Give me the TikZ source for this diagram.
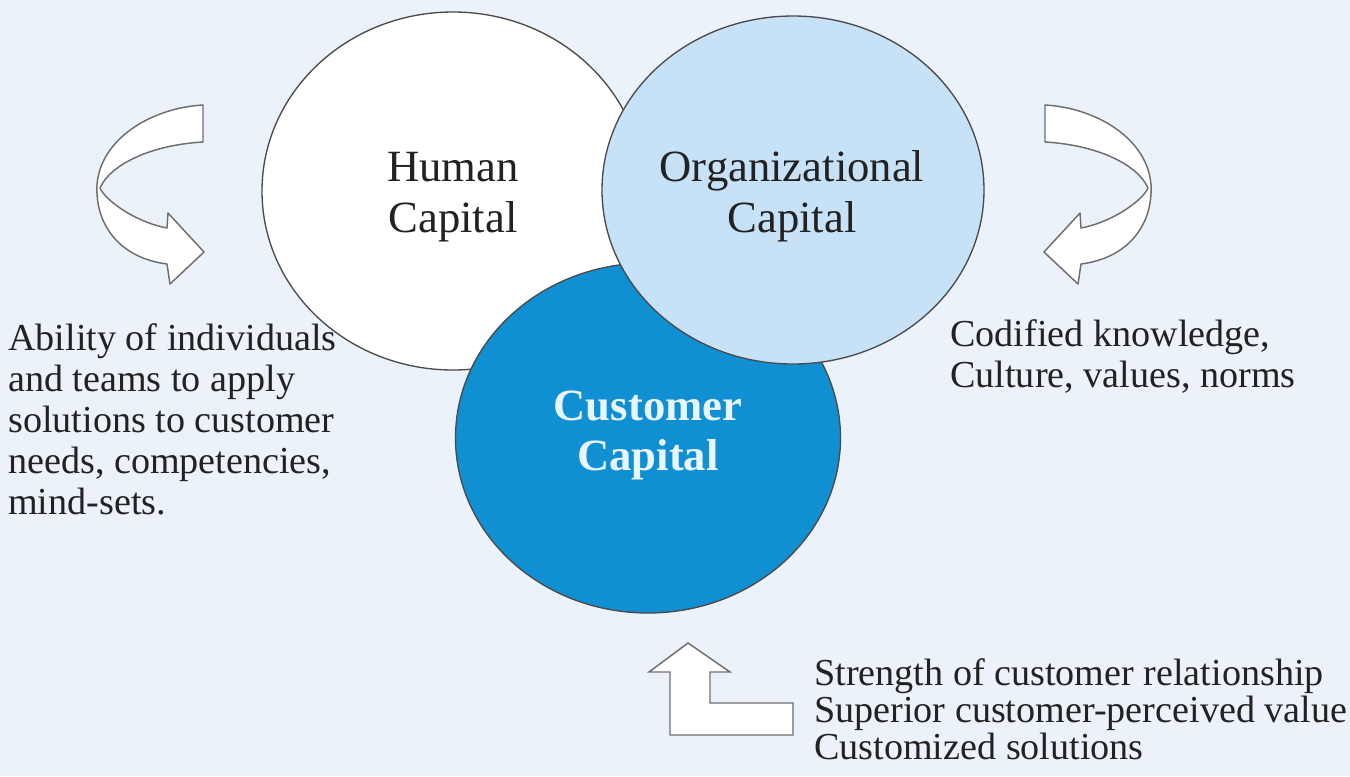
\documentclass[tikz,border=0pt]{standalone}
\usepackage{fontspec}
\setmainfont{Liberation Serif}
\usetikzlibrary{shapes.geometric}
\definecolor{bgc}{HTML}{ECF2F9}
\definecolor{orgc}{HTML}{C7E2F7}
\definecolor{custc}{HTML}{108FD2}
\definecolor{edgec}{HTML}{4A4A4A}
\definecolor{txtc}{HTML}{222222}
\definecolor{custtxt}{HTML}{E8F5FC}
\tikzset{
  capcircle/.style={ellipse, draw=edgec, line width=1pt, inner sep=0pt},
  bigarrow/.style={fill=white, draw=edgec!80, line width=1.1pt, line join=round},
  sidetext/.style={anchor=base west, inner sep=0pt, text=txtc, font=\fontsize{28.6pt}{30.75pt}\selectfont},
  bottext/.style={anchor=base west, inner sep=0pt, text=txtc, font=\fontsize{28.6pt}{27pt}\selectfont},
  caplabel/.style={anchor=base, inner sep=0pt, font=\fontsize{33.5pt}{38.5pt}\selectfont}
}
\begin{document}
\begin{tikzpicture}[x=0.75pt, y=-0.75pt]
\fill[bgc] (0,0) rectangle (1350,776);
\useasboundingbox (0,0) rectangle (1350,776);

% circles (stacking order: human, customer, organizational)
\node[capcircle, fill=white, minimum width=286.5pt, minimum height=268.5pt] (human) at (453,191) {};
\node[capcircle, fill=custc, minimum width=288.75pt, minimum height=262.5pt] (cust) at (648,438) {};
\node[capcircle, fill=orgc, minimum width=286.5pt, minimum height=261pt] (org) at (793,190) {};

% circle labels
\node[caplabel, text=txtc] (humanlbl) at (453,181) {\begin{tabular}[t]{@{}c@{}}Human\\Capital\end{tabular}};
\node[caplabel, text=txtc] (orglbl) at (792,181) {\begin{tabular}[t]{@{}c@{}}Organizational\\Capital\end{tabular}};
\node[caplabel, text=custtxt, font=\fontsize{33.5pt}{38pt}\selectfont\bfseries] (custlbl) at (648,420) {\begin{tabular}[t]{@{}c@{}}Customer\\Capital\end{tabular}};

% left curled arrow
\path[bigarrow] (203,105) .. controls (150,108) and (100,140) .. (97,185)
  .. controls (95,225) and (120,258) .. (167,264)
  -- (170,284) -- (204,252) -- (168,213) -- (167,228)
  .. controls (135,222) and (105,200) .. (100,188)
  .. controls (110,165) and (150,145) .. (203,142) -- cycle;

% right curled arrow (mirror image)
\begin{scope}[shift={(1248,0)}, xscale=-1]
\path[bigarrow] (203,105) .. controls (150,108) and (100,140) .. (97,185)
  .. controls (95,225) and (120,258) .. (167,264)
  -- (170,284) -- (204,252) -- (168,213) -- (167,228)
  .. controls (135,222) and (105,200) .. (100,188)
  .. controls (110,165) and (150,145) .. (203,142) -- cycle;
\end{scope}

% bottom bent arrow
\path[bigarrow, line join=miter] (688,643) -- (730,672) -- (710,672) -- (710,703) -- (793,703)
  -- (793,735) -- (670,735) -- (670,672) -- (649,672) -- cycle;

% side texts
\node[sidetext] (lefttext) at (8,350) {\begin{tabular}[t]{@{}l@{}}Ability of individuals\\and teams to apply\\solutions to customer\\needs, competencies,\\mind-sets.\end{tabular}};
\node[sidetext] (righttext) at (950,346) {\begin{tabular}[t]{@{}l@{}}Codified knowledge,\\Culture, values, norms\end{tabular}};
\node[bottext] (bottomtext) at (814,685) {\begin{tabular}[t]{@{}l@{}}Strength of customer relationship\\Superior customer-perceived value\\Customized solutions\end{tabular}};
\end{tikzpicture}
\end{document}
